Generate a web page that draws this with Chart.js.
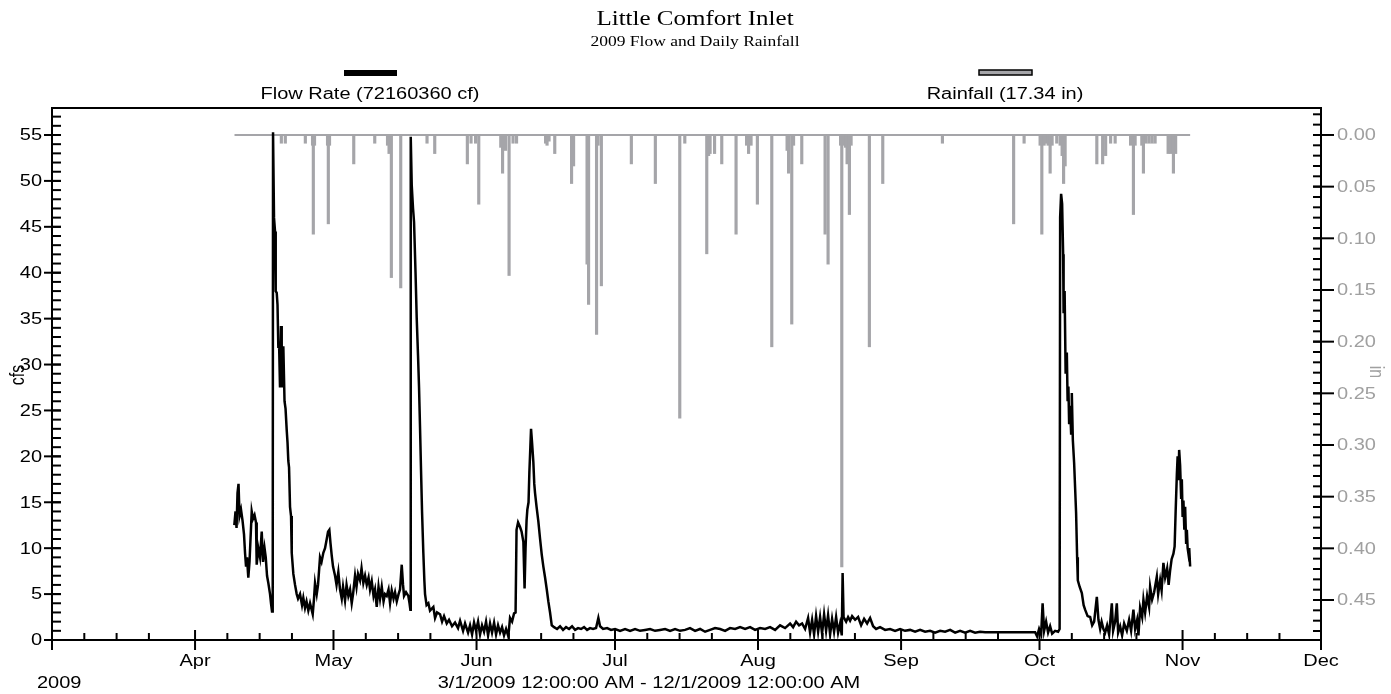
<!DOCTYPE html>
<html lang="en">
<head>
<meta charset="UTF-8">
<title>Little Comfort Inlet</title>
<script src="https://cdn.jsdelivr.net/npm/chart.js"></script>
<style>
  body { margin: 0; background: #fff; }
</style>
</head>
<body>
<canvas id="flowChart" width="1391" height="694"></canvas>
<script>
// x values are days after 3/1/2009 12:00:00 AM
const chartTitle = 'Little Comfort Inlet';
const chartSubtitle = '2009 Flow and Daily Rainfall';
const seriesNames = ['Flow Rate (72160360 cf)', 'Rainfall (17.34 in)'];
const rangeText = '3/1/2009 12:00:00 AM - 12/1/2009 12:00:00 AM';
const yearText = '2009';

const monthDays = [0, 31, 61, 92, 122, 153, 184, 214, 245, 275];
const monthLabels = ['', 'Apr', 'May', 'Jun', 'Jul', 'Aug', 'Sep', 'Oct', 'Nov', 'Dec'];
const cfsTicks = [0, 5, 10, 15, 20, 25, 30, 35, 40, 45, 50, 55];
const rainTicks = [0, 0.05, 0.10, 0.15, 0.20, 0.25, 0.30, 0.35, 0.40, 0.45];

const flowDay = [
  39.51, 39.77, 39.99, 40.20, 40.42, 40.64, 40.96, 41.29, 41.61, 41.83, 42.05, 42.26, 42.54, 42.80, 43.02, 43.28,
  43.56, 43.89, 44.21, 44.36, 44.71, 45.08, 45.45, 45.73, 46.06, 46.32, 46.60, 46.88, 47.25, 47.46, 47.68, 47.83,
  47.90, 48.11, 48.33, 48.48, 48.70, 48.87, 49.05, 49.20, 49.41, 49.63, 49.78, 49.96, 50.13, 50.39, 50.61, 50.87,
  51.04, 51.21, 51.37, 51.58, 51.80, 51.95, 52.30, 52.67, 53.03, 53.32, 53.75, 54.18, 54.46, 54.83, 55.16, 55.55,
  55.92, 56.50, 56.78, 57.00, 57.37, 57.65, 58.08, 58.41, 58.80, 59.17, 59.54, 59.82, 60.10, 60.36, 60.62, 60.90,
  61.34, 61.66, 62.05, 62.42, 62.79, 63.07, 63.50, 63.83, 64.22, 64.59, 64.95, 65.24, 65.67, 65.99, 66.32, 66.75,
  67.08, 67.47, 67.84, 68.21, 68.60, 68.92, 69.29, 69.68, 70.00, 70.37, 70.76, 71.09, 71.46, 71.85, 72.17, 72.54,
  72.93, 73.26, 73.62, 74.01, 74.34, 74.71, 75.10, 75.42, 75.79, 76.07, 76.29, 76.72, 77.22, 77.48, 77.66, 77.74,
  77.96, 78.24, 78.46, 78.78, 79.04, 79.32, 79.54, 79.76, 79.97, 80.19, 80.47, 80.69, 80.84, 81.17, 81.56, 81.92,
  82.64, 83.01, 83.44, 84.09, 84.53, 84.96, 85.54, 86.04, 86.69, 87.34, 87.99, 88.43, 89.08, 89.51, 90.16, 90.59,
  91.03, 91.46, 91.89, 92.33, 92.76, 93.19, 93.63, 94.06, 94.50, 94.93, 95.36, 95.80, 96.23, 96.66, 97.10, 97.53,
  97.96, 98.40, 98.89, 99.26, 99.70, 100.13, 100.46, 100.67, 101.00, 101.43, 101.76, 102.15, 102.41, 102.62, 102.84, 103.01,
  103.27, 103.45, 103.66, 103.81, 104.03, 104.31, 104.51, 104.68, 105.01, 105.40, 105.77, 106.13, 106.48, 106.85, 107.22, 107.56,
  107.93, 108.30, 108.80, 109.45, 110.10, 110.75, 111.40, 112.05, 112.70, 113.35, 114.00, 114.65, 115.30, 115.95, 116.60, 117.25,
  117.90, 118.40, 118.77, 119.42, 120.29, 121.15, 122.02, 123.10, 124.19, 125.27, 126.35, 127.44, 128.52, 129.61, 130.69, 131.77,
  132.86, 133.94, 135.02, 136.11, 137.19, 138.27, 139.36, 140.44, 141.53, 142.61, 143.69, 144.78, 145.86, 146.94, 148.03, 149.11,
  150.20, 151.28, 152.36, 153.45, 154.53, 155.61, 156.70, 157.78, 158.86, 159.95, 160.60, 161.25, 161.90, 162.55, 163.20, 163.85,
  164.28, 164.72, 165.15, 165.58, 166.02, 166.45, 166.88, 167.32, 167.75, 168.18, 168.62, 169.05, 169.48, 169.92, 170.35, 170.78,
  171.15, 171.33, 171.54, 172.09, 172.52, 172.95, 173.39, 174.04, 174.69, 175.34, 175.99, 176.64, 177.29, 177.94, 178.59, 179.45,
  180.54, 181.62, 182.70, 183.79, 184.87, 185.96, 187.04, 188.12, 189.21, 190.29, 191.37, 192.46, 193.54, 194.63, 195.71, 196.79,
  197.88, 198.96, 200.04, 201.13, 202.21, 213.05, 213.48, 213.91, 214.35, 214.67, 215.00, 215.43, 215.86, 216.30, 216.73, 217.38,
  218.03, 218.36, 218.47, 218.68, 218.90, 219.12, 219.22, 219.44, 219.66, 219.92, 220.09, 220.26, 220.42, 220.63, 220.85, 221.00,
  221.22, 221.50, 221.72, 221.93, 222.15, 222.30, 222.69, 223.17, 223.56, 223.88, 224.42, 224.97, 225.41, 225.84, 226.42, 226.77,
  227.14, 227.46, 227.85, 228.22, 228.65, 229.08, 229.67, 229.95, 230.39, 230.75, 231.04, 231.47, 231.90, 232.34, 232.92, 233.42,
  233.85, 234.35, 234.72, 235.15, 235.44, 235.80, 236.24, 236.52, 236.89, 237.32, 237.75, 237.97, 238.40, 238.84, 239.42, 239.71,
  240.14, 240.46, 240.85, 241.22, 241.66, 241.98, 242.31, 242.63, 243.02, 243.28, 243.50, 243.76, 243.93, 244.11, 244.26, 244.47,
  244.69, 244.84, 245.01, 245.19, 245.38, 245.56, 245.77, 245.93, 246.10, 246.27, 246.44, 246.64
];
const flowCfs = [
  12.5, 14.0, 12.2, 16.0, 17.0, 13.5, 14.2, 13.0, 11.5, 9.5, 8.0, 9.0, 6.8, 8.5, 11.0, 14.0,
  13.2, 13.6, 12.8, 8.2, 10.0, 9.0, 11.8, 8.5, 10.0, 9.0, 7.0, 6.2, 5.0, 4.0, 3.1, 3.3,
  55.3, 46.0, 44.5, 38.0, 37.8, 36.5, 31.8, 32.5, 27.5, 34.2, 31.0, 27.5, 32.0, 26.0, 25.2, 22.8,
  21.5, 19.5, 18.8, 14.5, 13.5, 9.5, 7.2, 6.0, 5.0, 4.5, 5.0, 3.8, 4.6, 3.5, 4.2, 3.2,
  4.0, 2.8, 4.5, 6.2, 5.0, 6.0, 9.0, 8.5, 9.5, 10.0, 11.0, 11.8, 12.0, 10.5, 9.2, 8.0,
  7.0, 6.0, 7.4, 5.5, 4.5, 5.8, 4.3, 6.0, 4.8, 5.5, 4.0, 5.0, 7.0, 5.8, 7.2, 6.5,
  7.8, 6.2, 7.0, 6.0, 6.8, 5.5, 6.4, 4.8, 5.5, 3.6, 5.8, 4.5, 5.8, 4.2, 5.0, 4.8,
  5.5, 4.0, 5.4, 4.5, 5.2, 4.2, 5.0, 5.5, 8.2, 6.0, 4.8, 5.2, 4.8, 4.0, 3.3, 54.8,
  49.5, 47.0, 45.5, 40.0, 35.0, 31.0, 27.5, 23.0, 18.5, 14.0, 9.5, 6.5, 5.0, 3.8, 4.0, 3.2,
  3.6, 2.4, 3.0, 2.8, 2.0, 2.6, 1.8, 2.2, 1.5, 1.9, 1.3, 2.1, 1.0, 1.8, 0.8, 1.6,
  0.6, 1.9, 1.0, 2.0, 0.6, 1.6, 0.9, 2.0, 0.5, 1.8, 0.8, 1.9, 0.6, 1.6, 0.8, 1.4,
  0.5, 1.2, 0.4, 2.4, 2.0, 2.9, 3.0, 12.0, 12.8, 12.3, 11.8, 10.7, 5.6, 10.0, 13.0, 14.2,
  15.0, 18.3, 21.0, 23.0, 21.5, 19.4, 17.0, 16.0, 14.5, 12.9, 11.0, 9.3, 8.0, 6.8, 5.5, 4.2,
  3.0, 1.6, 1.4, 1.2, 1.5, 1.1, 1.4, 1.2, 1.5, 1.1, 1.3, 1.2, 1.4, 1.1, 1.3, 1.2,
  1.3, 2.4, 1.5, 1.2, 1.3, 1.1, 1.2, 1.0, 1.2, 1.0, 1.2, 1.0, 1.1, 1.2, 1.0, 1.1,
  1.2, 1.0, 1.2, 1.0, 1.1, 1.3, 1.0, 1.2, 0.9, 1.1, 1.3, 1.2, 1.0, 1.3, 1.2, 1.4,
  1.2, 1.4, 1.1, 1.3, 1.2, 1.4, 1.1, 1.6, 1.3, 1.8, 1.4, 2.0, 1.6, 1.8, 1.2, 2.4,
  0.8, 2.2, 0.6, 2.6, 0.9, 2.5, 0.7, 2.8, 1.0, 2.7, 0.6, 2.3, 0.9, 2.5, 0.8, 1.8,
  0.5, 7.3, 2.5, 2.0, 2.5, 2.1, 2.6, 2.2, 2.5, 1.6, 2.3, 1.8, 2.4, 1.5, 1.2, 1.4,
  1.1, 1.2, 1.0, 1.2, 1.0, 1.1, 0.9, 1.1, 0.9, 1.0, 0.8, 1.0, 0.9, 1.1, 0.8, 1.0,
  0.8, 1.0, 0.8, 0.9, 0.85, 0.85, 0.4, 1.2, 0.6, 4.0, 1.0, 2.0, 0.8, 1.5, 0.7, 1.0,
  0.9, 1.2, 46.0, 48.6, 47.5, 42.0, 35.6, 38.0, 29.0, 31.3, 26.0, 27.6, 23.5, 25.5, 22.5, 26.9,
  21.8, 19.3, 16.5, 13.8, 9.0, 6.5, 5.8, 5.1, 3.8, 3.3, 2.6, 2.5, 1.6, 2.0, 4.7, 2.2,
  1.2, 2.0, 1.2, 0.8, 1.6, 0.6, 4.0, 1.0, 2.0, 4.0, 0.8, 1.5, 0.5, 1.8, 1.0, 2.2,
  1.0, 3.3, 1.2, 2.2, 0.5, 3.5, 2.5, 4.4, 3.0, 4.8, 3.6, 5.8, 4.4, 5.2, 6.9, 5.0,
  6.5, 5.4, 8.4, 6.8, 7.8, 6.0, 7.6, 8.8, 9.4, 10.2, 14.0, 18.0, 20.0, 17.4, 20.7, 19.0,
  15.5, 17.5, 13.4, 15.2, 12.0, 14.5, 10.6, 12.0, 10.0, 9.4, 10.0, 8.0
];

// rain gauge record: first and last reading, then each reading above zero
const rainSpan = [39.55, 246.64];
const rainDay = [
  49.70, 50.56, 54.90, 56.46, 56.63, 56.89, 59.71, 59.88, 60.14, 65.39, 69.94, 72.71, 73.04, 73.54, 75.57, 81.27,
  82.94, 90.01, 90.81, 91.79, 92.48, 97.25, 97.64, 98.29, 99.05, 99.91, 100.67, 106.96, 107.28, 107.71, 108.95, 112.59,
  113.03, 115.95, 116.28, 118.01, 118.34, 119.05, 125.55, 130.75, 136.04, 137.13, 141.89, 142.29, 142.61, 143.58, 145.14, 148.24,
  150.52, 150.95, 151.49, 152.86, 155.98, 159.30, 159.62, 160.31, 160.70, 162.48, 167.53, 168.18, 170.89, 171.15, 171.54, 171.98,
  172.30, 172.80, 173.17, 177.13, 180.03, 192.96, 208.39, 210.66, 214.13, 214.50, 215.00, 215.43, 215.86, 216.30, 216.73, 217.74,
  218.47, 218.90, 219.22, 219.55, 226.42, 227.68, 228.33, 229.41, 230.39, 233.74, 234.35, 234.72, 236.17, 236.52, 237.10, 237.75,
  238.40, 239.05, 241.87, 242.41, 243.02, 243.50
];
const rainIn = [
  0.008, 0.008, 0.008, 0.010, 0.096, 0.010, 0.010, 0.086, 0.010, 0.028, 0.008, 0.010, 0.018, 0.138, 0.148, 0.008,
  0.018, 0.028, 0.008, 0.008, 0.067, 0.012, 0.037, 0.015, 0.136, 0.008, 0.008, 0.008, 0.010, 0.006, 0.018, 0.047,
  0.030, 0.125, 0.164, 0.193, 0.010, 0.146, 0.028, 0.047, 0.274, 0.008, 0.115, 0.020, 0.018, 0.018, 0.028, 0.096,
  0.010, 0.018, 0.010, 0.067, 0.205, 0.015, 0.037, 0.183, 0.010, 0.028, 0.096, 0.125, 0.010, 0.418, 0.010, 0.012,
  0.028, 0.077, 0.010, 0.205, 0.047, 0.008, 0.086, 0.008, 0.010, 0.096, 0.010, 0.008, 0.010, 0.037, 0.010, 0.008,
  0.010, 0.020, 0.047, 0.030, 0.028, 0.028, 0.020, 0.008, 0.008, 0.010, 0.077, 0.010, 0.010, 0.037, 0.008, 0.008,
  0.008, 0.008, 0.018, 0.018, 0.037, 0.018
];

const rainGray = '#a5a5a9';
const labelGray = '#a0a0a0';
const SX = 1.25; // text in the original is a bit wide

function drawText(ctx, str, x, y, font, color, align, rot) {
  ctx.save();
  ctx.translate(x, y);
  ctx.scale(SX, 1);
  if (rot) ctx.rotate(rot);
  ctx.font = font;
  ctx.fillStyle = color;
  ctx.textAlign = align;
  ctx.textBaseline = 'middle';
  ctx.fillText(str, 0, 0);
  ctx.restore();
}

const framePlugin = {
  id: 'frame',
  afterDraw(chart) {
    const ctx = chart.ctx;
    const a = chart.chartArea;
    const xs = chart.scales.x, ys = chart.scales.y, y2s = chart.scales.y2;
    const sans = 'Liberation Sans, Arial, sans-serif';
    const line = (x1, y1, x2, y2) => { ctx.beginPath(); ctx.moveTo(x1, y1); ctx.lineTo(x2, y2); ctx.stroke(); };

    ctx.save();
    ctx.strokeStyle = '#000';
    ctx.lineWidth = 2;
    ctx.strokeRect(a.left, a.top, a.right - a.left, a.bottom - a.top);

    // left axis: minor every 1 inward, major every 5 across
    for (let v = 0; v <= Math.floor(ys.max); v++) {
      const py = ys.getPixelForValue(v);
      line(a.left, py, a.left + 9, py);
    }
    cfsTicks.forEach(v => {
      const py = ys.getPixelForValue(v);
      line(a.left - 8, py, a.left + 9, py);
      drawText(ctx, String(v), a.left - 10, py + 1, '16px ' + sans, '#000', 'right');
    });

    // right axis
    for (let i = -2; i <= 48; i++) {
      const py = y2s.getPixelForValue(i / 100);
      line(a.right - 8, py, a.right, py);
    }
    rainTicks.forEach(v => {
      const py = y2s.getPixelForValue(v);
      line(a.right - 8, py, a.right + 13, py);
      drawText(ctx, v.toFixed(2), a.right + 16, py + 1, '16px ' + sans, labelGray, 'left');
    });

    // bottom axis: months across, 8th/15th/22nd inward
    monthDays.forEach((d, i) => {
      const px = xs.getPixelForValue(d);
      line(px, a.bottom - 10, px, a.bottom + 10);
      if (i < monthDays.length - 1) {
        [7, 14, 21].forEach(k => {
          const mx = xs.getPixelForValue(d + k);
          line(mx, a.bottom - 7, mx, a.bottom);
        });
      }
      if (monthLabels[i]) drawText(ctx, monthLabels[i], px, a.bottom + 22, '16px ' + sans, '#000', 'center');
    });
    drawText(ctx, yearText, 37, 684, '16px ' + sans, '#000', 'left');
    drawText(ctx, rangeText, 649, 684, '16px ' + sans, '#000', 'center');

    // axis titles
    drawText(ctx, 'cfs', 18, 375, '16px ' + sans, '#000', 'center', -Math.PI / 2);
    drawText(ctx, 'in', 1376, 372, '16px ' + sans, labelGray, 'center', Math.PI / 2);

    // title block
    drawText(ctx, chartTitle, 695, 20, '20px Liberation Serif, Times New Roman, serif', '#000', 'center');
    drawText(ctx, chartSubtitle, 695, 42, '14px Liberation Serif, Times New Roman, serif', '#000', 'center');

    // legend
    ctx.fillStyle = '#000';
    ctx.fillRect(344, 70, 53, 6);
    drawText(ctx, seriesNames[0], 370, 95, '16px ' + sans, '#000', 'center');
    ctx.fillStyle = rainGray;
    ctx.fillRect(979, 70, 53, 5);
    ctx.lineWidth = 1.5;
    ctx.strokeRect(979, 70, 53, 5);
    drawText(ctx, seriesNames[1], 1005, 95, '16px ' + sans, '#000', 'center');
    ctx.restore();
  }
};

new Chart(document.getElementById('flowChart'), {
  data: {
    datasets: [
      {
        type: 'line',
        label: seriesNames[0],
        data: flowDay.map((d, i) => ({ x: d, y: flowCfs[i] })),
        yAxisID: 'y',
        borderColor: '#000',
        borderWidth: 2.5,
        pointRadius: 0,
        tension: 0,
        order: 0
      },
      {
        type: 'bar',
        label: seriesNames[1],
        data: rainDay.map((d, i) => ({ x: d, y: rainIn[i] })),
        yAxisID: 'y2',
        backgroundColor: rainGray,
        barThickness: 2.5,
        grouped: false,
        order: 1
      },
      {
        type: 'line',
        label: 'rain record',
        data: rainSpan.map(d => ({ x: d, y: 0 })),
        yAxisID: 'y2',
        borderColor: rainGray,
        borderWidth: 2,
        pointRadius: 0,
        order: 2
      }
    ]
  },
  options: {
    responsive: false,
    animation: false,
    devicePixelRatio: 1,
    layout: { padding: { top: 108, left: 0, right: 0, bottom: 0 } },
    plugins: {
      legend: { display: false },
      title: { display: false },
      tooltip: { enabled: false }
    },
    scales: {
      x: {
        type: 'linear', min: 0, max: 275, offset: false,
        ticks: { display: false }, grid: { display: false }, border: { display: false },
        afterFit(s) { s.height = 54; }
      },
      y: {
        position: 'left', min: 0, max: 57.94,
        ticks: { display: false }, grid: { display: false }, border: { display: false },
        afterFit(s) { s.width = 52; }
      },
      y2: {
        position: 'right', reverse: true, min: -0.0261, max: 0.4887,
        ticks: { display: false }, grid: { display: false }, border: { display: false },
        afterFit(s) { s.width = 70; }
      }
    }
  },
  plugins: [framePlugin]
});
</script>
</body>
</html>
